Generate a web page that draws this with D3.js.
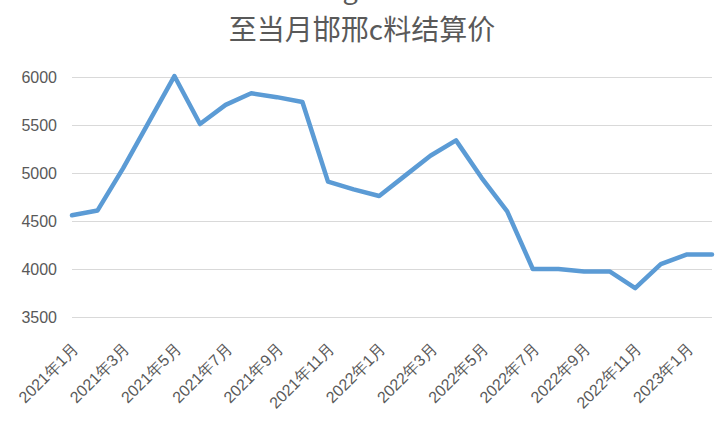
<!DOCTYPE html>
<html>
<head>
<meta charset="utf-8">
<script src="https://cdn.jsdelivr.net/npm/d3@7"></script>
<style>
body{margin:0;background:#fff;}
svg{display:block;font-family:"Noto Sans CJK SC","Noto Sans",sans-serif;}
</style>
</head>
<body>
<div id="chart"></div>
<script>
// data
var months=["2021年1月","2021年2月","2021年3月","2021年4月","2021年5月","2021年6月","2021年7月","2021年8月","2021年9月","2021年10月","2021年11月","2021年12月",
	"2022年1月","2022年2月","2022年3月","2022年4月","2022年5月","2022年6月","2022年7月","2022年8月","2022年9月","2022年10月","2022年11月","2022年12月",
	"2023年1月","2023年2月"];
var prices=[4560,4610,5050,5530,6010,5510,5710,5830,5790,5740,4910,4830,
	4760,4970,5180,5340,4950,4600,4000,4000,3975,3975,3800,4050,
	4150,4150];
var yTicks=[3500,4000,4500,5000,5500,6000];
var title="至当月邯邢c料结算价";

var W=723,H=423;
var svg=d3.select("#chart").append("svg").attr("width",W).attr("height",H);

var x=d3.scalePoint().domain(months).range([72,712]);
var y=d3.scaleLinear().domain([3500,6000]).range([317,77]);

// stray glyph cut at the top edge (part of a line above the crop)
svg.append("text").attr("x",350).attr("y",-1).attr("text-anchor","middle")
	.style("font-size","27px").style("fill","#595959").text("g");

svg.append("text")
	.attr("x",362).attr("y",40)
	.attr("text-anchor","middle")
	.style("font-size","28px")
	.style("fill","#595959")
	.text(title);

// gridlines + y labels
var yAxis=svg.append("g").attr("transform","translate(72,0)")
	.call(d3.axisLeft(y).tickValues(yTicks).tickSize(-(712-72)).tickPadding(15).tickFormat(d3.format("d")));
yAxis.select(".domain").remove();
yAxis.selectAll(".tick line").attr("stroke","#d9d9d9").attr("stroke-width",1);
yAxis.selectAll(".tick text").style("font-size","16px").style("fill","#595959").attr("font-family",null);

// x labels, every second month, rotated
var xAxis=svg.append("g").attr("transform","translate(0,317)")
	.call(d3.axisBottom(x).tickValues(months.filter(function(d,i){return i%2==0;})).tickSize(0));
xAxis.select(".domain").remove();
xAxis.selectAll(".tick text")
	.attr("font-family",null)
	.style("font-size","16px").style("fill","#595959")
	.attr("text-anchor","end")
	.attr("y",0).attr("dy","0.35em")
	.attr("transform","translate(3,29) rotate(-45)");

var line=d3.line().x(function(d,i){return x(months[i]);}).y(function(d){return y(d);});
svg.append("path").datum(prices)
	.attr("d",line)
	.attr("fill","none")
	.attr("stroke","#5b9bd5")
	.attr("stroke-width",4.5)
	.attr("stroke-linejoin","round")
	.attr("stroke-linecap","round");
</script>
</body>
</html>
